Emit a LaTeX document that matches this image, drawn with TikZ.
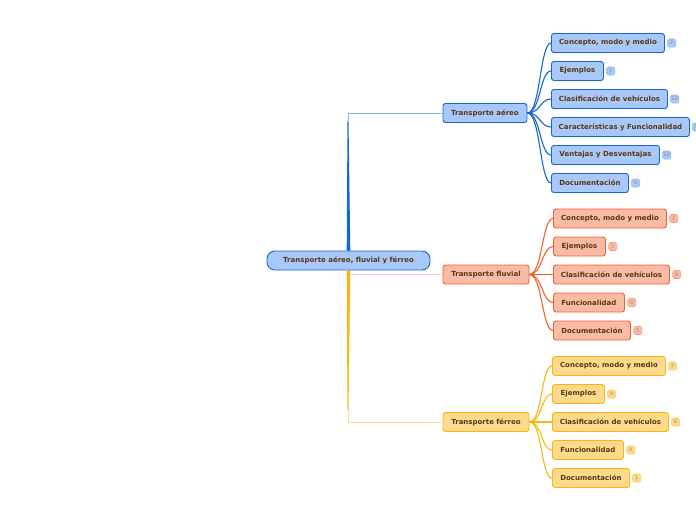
\documentclass[tikz,border=0pt]{standalone}
\usepackage{fontspec}
\setmainfont{DejaVu Sans}
\usetikzlibrary{calc}
\definecolor{ink}{HTML}{5B3713}
\definecolor{airline}{HTML}{1565D8}
\definecolor{airfill}{HTML}{A8C8FA}
\definecolor{airsoft}{HTML}{8AB4F0}
\definecolor{riverline}{HTML}{F0602F}
\definecolor{riverfill}{HTML}{F9BBA5}
\definecolor{riversoft}{HTML}{FBCDBD}
\definecolor{railline}{HTML}{F9B60F}
\definecolor{railfill}{HTML}{FFD98C}
\definecolor{railsoft}{HTML}{FFDD94}
\newcommand{\fine}{\fontsize{7}{8.4}\selectfont\bfseries}
\newcommand{\badgefont}{\fontsize{4.8}{5.6}\selectfont}

\begin{document}
\begin{tikzpicture}[x=1pt,y=-1pt,
  topic/.style={draw,rounded corners=2.5pt,line width=0.9pt,minimum height=19pt,inner sep=0,text=ink,font=\fine},
  badge/.style={draw,rounded corners=1.5pt,line width=0.6pt,minimum height=8pt,minimum width=8pt,inner sep=1pt,font=\badgefont},
  twig/.style={line width=1.1pt}]
\useasboundingbox (0,0) rectangle (696,520);
% central topic and main branches
\node[topic,draw=airline,fill=airfill,rounded corners=8pt,minimum width=163pt] (root) at (348.5,260.5) {Transporte aéreo, fluvial y férreo};
\node[topic,draw=airline,fill=airfill,minimum width=84pt] (air) at (485,113) {Transporte aéreo};
\node[topic,draw=riverline,fill=riverfill,minimum width=86pt] (river) at (486,274.5) {Transporte fluvial};
\node[topic,draw=railline,fill=railfill,minimum width=86pt] (rail) at (486,422) {Transporte férreo};
\coordinate (airbend) at (348,113);
\coordinate (riverbend) at (349,274.5);
\coordinate (railbend) at (348,422);
\fill[airline] ($(root.north)+(-1.8,0)$) -- ($(airbend)+(-0.5,8)$) -- ($(airbend)+(0.5,8)$) -- ($(root.north)+(1.8,0)$) -- cycle;
\draw[airsoft,line width=0.8pt] ($(airbend)+(0,9)$) -- (airbend) -- (air.west);
\draw[riversoft,line width=1.2pt] (riverbend) -- (river.west);
\fill[railline] ($(root.south)+(-1.8,0)$) -- ($(railbend)+(-0.5,-12)$) -- ($(railbend)+(0.5,-12)$) -- ($(root.south)+(1.8,0)$) -- cycle;
\draw[railsoft,line width=0.8pt] ($(railbend)+(0,-13)$) -- (railbend) -- (rail.west);
% aereo
\node[topic,anchor=west,draw=airline,fill=airfill,minimum width=113pt] (a1) at (551,43) {Concepto, modo y medio};
\node[topic,anchor=west,draw=airline,fill=airfill,minimum width=52pt] (a2) at (551,71) {Ejemplos};
\node[topic,anchor=west,draw=airline,fill=airfill,minimum width=116pt] (a3) at (551,99) {Clasificación de vehículos};
\node[topic,anchor=west,draw=airline,fill=airfill,minimum width=138pt] (a4) at (551,127) {Características y Funcionalidad};
\node[topic,anchor=west,draw=airline,fill=airfill,minimum width=108pt] (a5) at (551,155) {Ventajas y Desventajas};
\node[topic,anchor=west,draw=airline,fill=airfill,minimum width=77pt] (a6) at (551,183) {Documentación};
\node[badge,anchor=west,draw=airsoft,fill=airfill,text=ink!60] (a1n) at ($(a1.east)+(2.5,0)$) {2};
\node[badge,anchor=west,draw=airsoft,fill=airfill,text=ink!60] (a2n) at ($(a2.east)+(2.5,0)$) {1};
\node[badge,anchor=west,draw=airsoft,fill=airfill,text=ink!60] (a3n) at ($(a3.east)+(2.5,0)$) {22};
\node[badge,anchor=west,draw=airsoft,fill=airfill,text=ink!60] (a4n) at ($(a4.east)+(2.5,0)$) {5};
\node[badge,anchor=west,draw=airsoft,fill=airfill,text=ink!60] (a5n) at ($(a5.east)+(2.5,0)$) {10};
\node[badge,anchor=west,draw=airsoft,fill=airfill,text=ink!60] (a6n) at ($(a6.east)+(2.5,0)$) {8};
\draw[twig,airline] (air.east) .. controls +(13,0) and +(-11,0) .. (a1.west);
\draw[twig,airline] (air.east) .. controls +(13,0) and +(-11,0) .. (a2.west);
\draw[twig,airline] (air.east) .. controls +(13,0) and +(-11,0) .. (a3.west);
\draw[twig,airline] (air.east) .. controls +(13,0) and +(-11,0) .. (a4.west);
\draw[twig,airline] (air.east) .. controls +(13,0) and +(-11,0) .. (a5.west);
\draw[twig,airline] (air.east) .. controls +(13,0) and +(-11,0) .. (a6.west);
% fluvial
\node[topic,anchor=west,draw=riverline,fill=riverfill,minimum width=113pt] (r1) at (553,218.5) {Concepto, modo y medio};
\node[topic,anchor=west,draw=riverline,fill=riverfill,minimum width=52pt] (r2) at (553,246.5) {Ejemplos};
\node[topic,anchor=west,draw=riverline,fill=riverfill,minimum width=116pt] (r3) at (553,274.5) {Clasificación de vehículos};
\node[topic,anchor=west,draw=riverline,fill=riverfill,minimum width=71pt] (r4) at (553,302.5) {Funcionalidad};
\node[topic,anchor=west,draw=riverline,fill=riverfill,minimum width=77pt] (r5) at (553,330.5) {Documentación};
\node[badge,anchor=west,draw=riverline!60,fill=riverfill,text=ink!60] (r1n) at ($(r1.east)+(2.5,0)$) {2};
\node[badge,anchor=west,draw=riverline!60,fill=riverfill,text=ink!60] (r2n) at ($(r2.east)+(2.5,0)$) {3};
\node[badge,anchor=west,draw=riverline!60,fill=riverfill,text=ink!60] (r3n) at ($(r3.east)+(2.5,0)$) {8};
\node[badge,anchor=west,draw=riverline!60,fill=riverfill,text=ink!60] (r4n) at ($(r4.east)+(2.5,0)$) {8};
\node[badge,anchor=west,draw=riverline!60,fill=riverfill,text=ink!60] (r5n) at ($(r5.east)+(2.5,0)$) {5};
\draw[twig,riverline] (river.east) .. controls +(13,0) and +(-11,0) .. (r1.west);
\draw[twig,riverline] (river.east) .. controls +(13,0) and +(-11,0) .. (r2.west);
\draw[twig,riverline] (river.east) -- (r3.west);
\draw[twig,riverline] (river.east) .. controls +(13,0) and +(-11,0) .. (r4.west);
\draw[twig,riverline] (river.east) .. controls +(13,0) and +(-11,0) .. (r5.west);
% ferreo
\node[topic,anchor=west,draw=railline,fill=railfill,minimum width=113pt] (f1) at (552,366) {Concepto, modo y medio};
\node[topic,anchor=west,draw=railline,fill=railfill,minimum width=52pt] (f2) at (552,394) {Ejemplos};
\node[topic,anchor=west,draw=railline,fill=railfill,minimum width=116pt] (f3) at (552,422) {Clasificación de vehículos};
\node[topic,anchor=west,draw=railline,fill=railfill,minimum width=71pt] (f4) at (552,450) {Funcionalidad};
\node[topic,anchor=west,draw=railline,fill=railfill,minimum width=77pt] (f5) at (552,478) {Documentación};
\node[badge,anchor=west,draw=railline!70,fill=railfill,text=ink!60] (f1n) at ($(f1.east)+(2.5,0)$) {2};
\node[badge,anchor=west,draw=railline!70,fill=railfill,text=ink!60] (f2n) at ($(f2.east)+(2.5,0)$) {9};
\node[badge,anchor=west,draw=railline!70,fill=railfill,text=ink!60] (f3n) at ($(f3.east)+(2.5,0)$) {6};
\node[badge,anchor=west,draw=railline!70,fill=railfill,text=ink!60] (f4n) at ($(f4.east)+(2.5,0)$) {4};
\node[badge,anchor=west,draw=railline!70,fill=railfill,text=ink!60] (f5n) at ($(f5.east)+(2.5,0)$) {1};
\draw[twig,railline] (rail.east) .. controls +(13,0) and +(-11,0) .. (f1.west);
\draw[twig,railline] (rail.east) .. controls +(13,0) and +(-11,0) .. (f2.west);
\draw[twig,railline] (rail.east) -- (f3.west);
\draw[twig,railline] (rail.east) .. controls +(13,0) and +(-11,0) .. (f4.west);
\draw[twig,railline] (rail.east) .. controls +(13,0) and +(-11,0) .. (f5.west);
\end{tikzpicture}
\end{document}
